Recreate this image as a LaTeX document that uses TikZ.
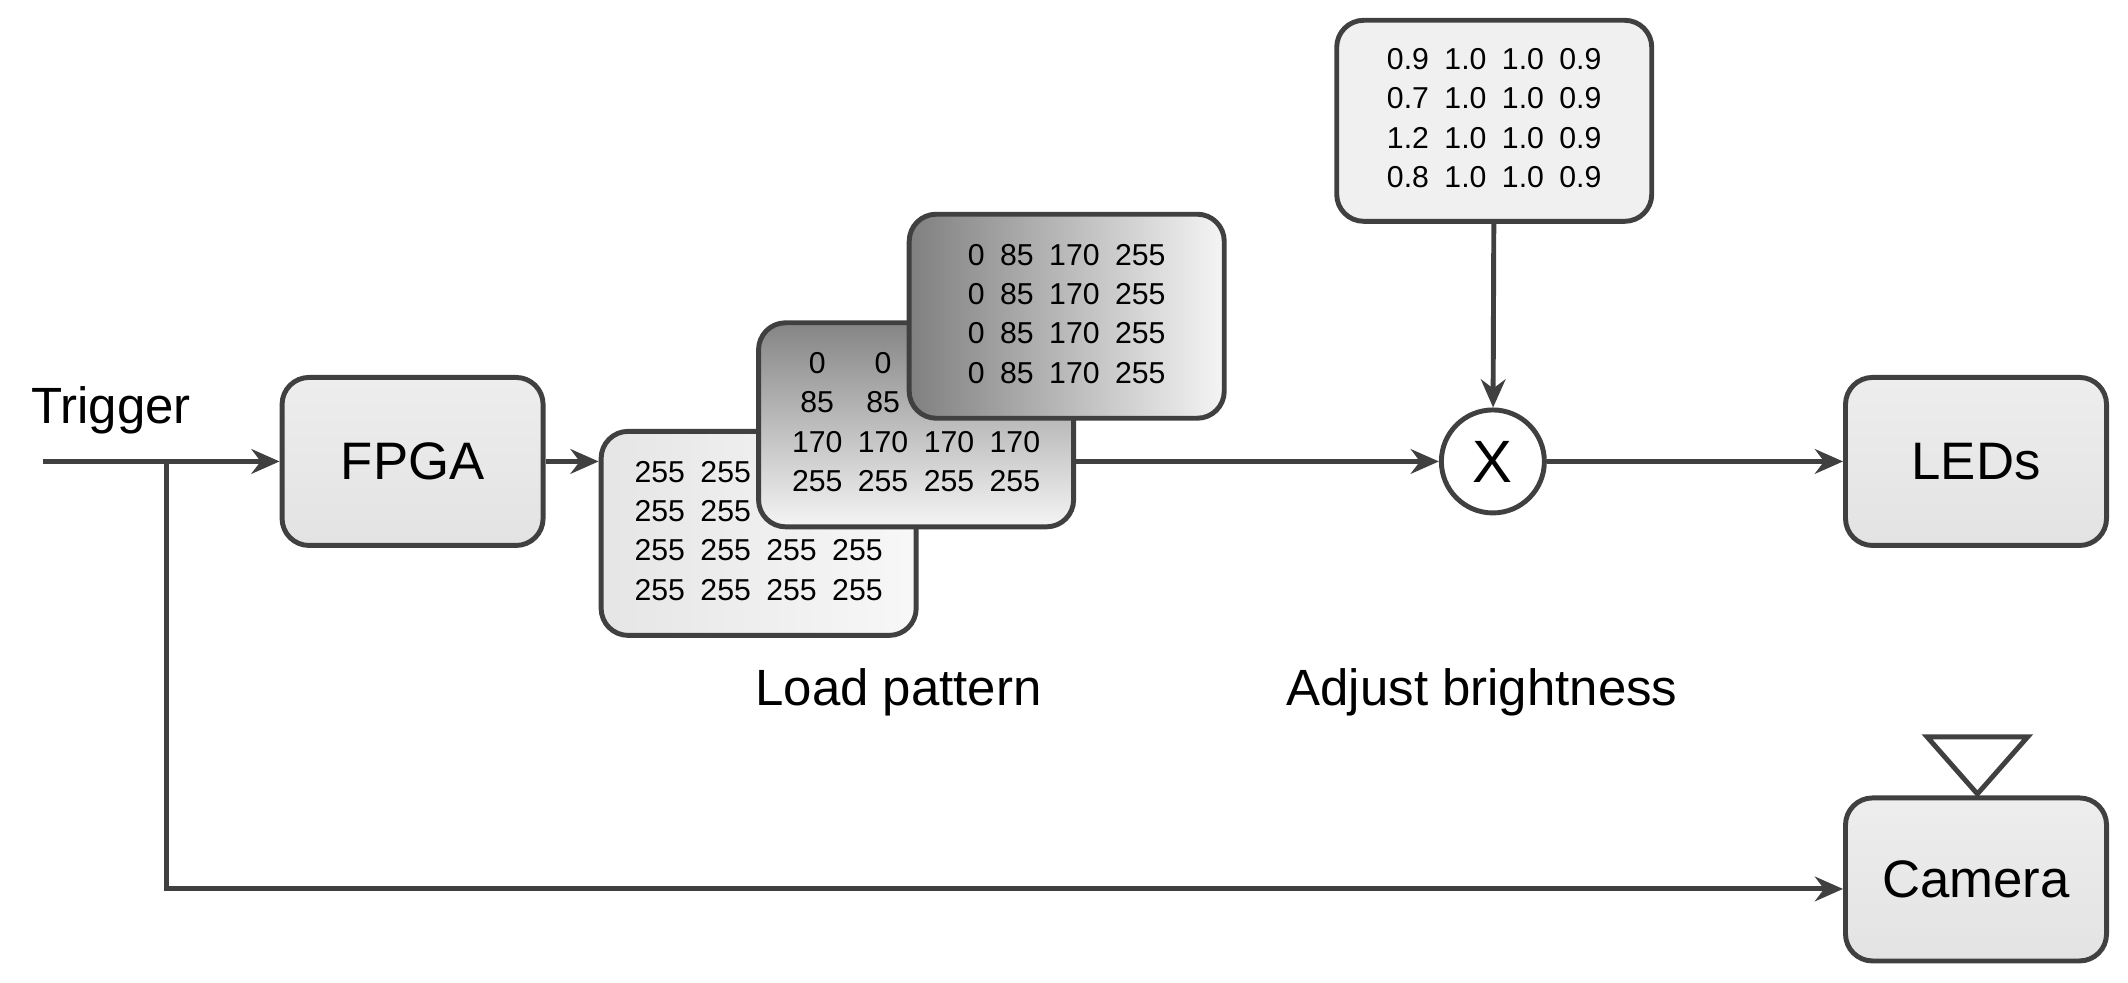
\documentclass[tikz,border=0pt]{standalone}
\usepackage{fontspec}
\setmainfont{Liberation Sans}
\usetikzlibrary{arrows.meta}
\definecolor{ink}{HTML}{404040}
\newcommand{\matrows}[1]{\fontsize{8.6}{10}\selectfont\setlength{\tabcolsep}{2.2pt}\renewcommand{\arraystretch}{1.12}\begin{tabular}{cccc}#1\end{tabular}}

\begin{document}
\begin{tikzpicture}[x=0.1357mm,y=-0.1357mm,
  box/.style={draw=ink,line width=1.4pt,rounded corners=0.27cm,inner sep=0pt,align=center},
  blk/.style={box,top color=white!93!black,bottom color=white!89!black,minimum width=2.61cm,minimum height=1.68cm,font=\fontsize{15}{18}\selectfont},
  pat/.style={box,minimum width=3.15cm,minimum height=2.04cm},
  link/.style={draw=ink,line width=1.4pt,-{Stealth[length=8pt,width=7pt]}},
  lbl/.style={font=\fontsize{14.5}{17}\selectfont,text=black}]
\useasboundingbox (0,0) rectangle (1568,724);
\node[blk] (fpga) at (304,340) {FPGA};
\node[blk] (leds) at (1456,340) {LEDs};
\node[blk,minimum height=1.63cm] (cam) at (1456,648) {Camera};
\draw[ink,line width=1.4pt,fill=white] (1420,543) -- (1494,543) -- (1457,585) -- cycle;
\node[lbl,anchor=south west] (trig) at (14,329) {Trigger};
\coordinate (in) at (32,340);
\coordinate (split) at (123,340);
\coordinate (corner) at (123,655);
\node[pat,left color=white!90!black,right color=white!97!black] (pat1) at (559,393)
  {\matrows{255&255&255&255\\255&255&255&255\\255&255&255&255\\255&255&255&255}};
\node[pat,shading=axis,shading angle=-45,top color=white!52!black,bottom color=white!96!black] (pat2) at (675,313)
  {\matrows{0&0&0&0\\85&85&85&85\\170&170&170&170\\255&255&255&255}};
\node[pat,left color=white!50!black,right color=white!96!black] (pat3) at (786,233)
  {\matrows{0&85&170&255\\0&85&170&255\\0&85&170&255\\0&85&170&255}};
\node[pat,fill=white!94!black,minimum height=2.01cm] (gain) at (1101,89)
  {\matrows{0.9&1.0&1.0&0.9\\0.7&1.0&1.0&0.9\\1.2&1.0&1.0&0.9\\0.8&1.0&1.0&0.9}};
\node[circle,draw=ink,line width=1.4pt,fill=white,minimum size=1.03cm,inner sep=0pt,font=\fontsize{17}{20}\selectfont] (mul) at (1100,340) {X};
\node[lbl] (load) at (662,510) {Load pattern};
\node[lbl] (adj) at (1092,510) {Adjust brightness};

\draw[link] (in) -- (fpga);
\draw[link] (fpga) -- (fpga.east -| pat1.west);
\draw[link] (pat2.east |- mul) -- (mul);
\draw[link] (gain) -- (mul);
\draw[link] (mul) -- (leds);
\draw[link] (split) -- (corner) -- (cam.west |- corner);
\end{tikzpicture}
\end{document}
